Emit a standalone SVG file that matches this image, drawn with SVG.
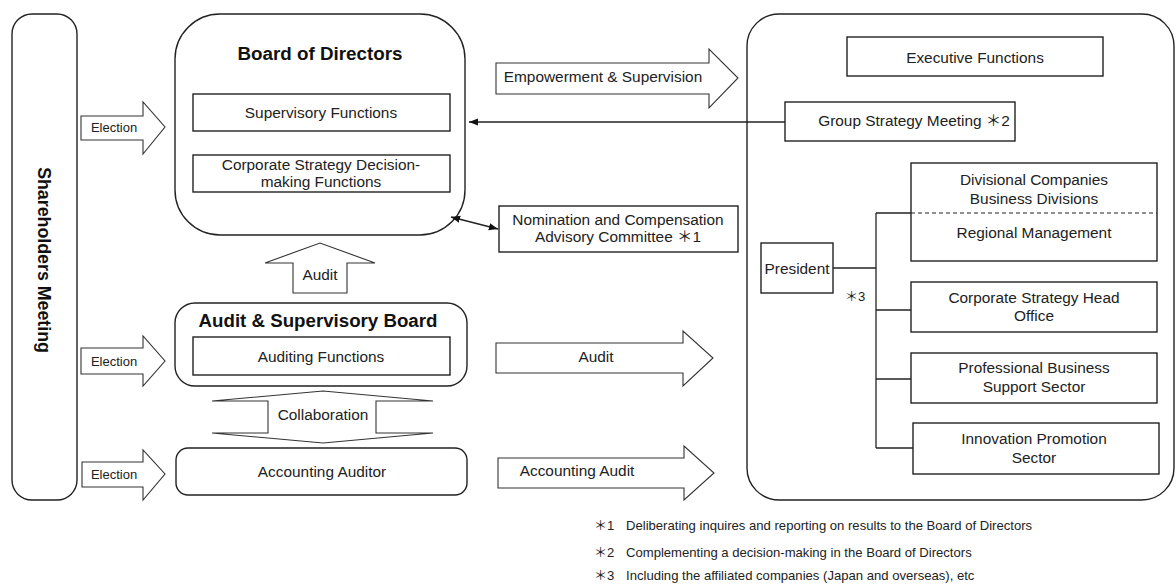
<svg xmlns="http://www.w3.org/2000/svg" width="1176" height="587" viewBox="0 0 1176 587">
<defs>
<style>
.box{fill:#fff;stroke:#222;stroke-width:1.4}
.arr{fill:#fff;stroke:#333;stroke-width:1.1}
.t{font-family:"Liberation Sans",Arial,"Noto Sans CJK JP",sans-serif;font-size:15.4px;fill:#222;text-anchor:middle}
.e{font-size:13px}
.b{font-family:"Liberation Sans",Arial,sans-serif;font-weight:bold;fill:#111;text-anchor:middle}
.fn{font-family:"Liberation Sans",Arial,"Noto Sans CJK JP",sans-serif;font-size:13.1px;fill:#222}
.ln{fill:none;stroke:#222;stroke-width:1.3}
</style>
<marker id="ah" viewBox="0 0 10 10" refX="10" refY="5" markerWidth="7" markerHeight="7" orient="auto-start-reverse"><path d="M0,1 L10,5 L0,9 z" fill="#111"/></marker>
</defs>
<rect width="1176" height="587" fill="#fff"/>

<g id="shareholders">
<rect class="box" x="12" y="14" width="65" height="486" rx="20"/>
<text class="b" font-size="17.8" transform="translate(38,260) rotate(90)">Shareholders Meeting</text>
</g>

<g id="board">
<rect class="box" x="175" y="14" width="290" height="221" rx="45"/>
<text class="b" font-size="18.8" x="320" y="60">Board of Directors</text>
<rect class="box" x="193" y="94" width="257" height="37"/>
<text class="t" x="321" y="117.5">Supervisory Functions</text>
<rect class="box" x="193" y="155" width="257" height="37"/>
<text class="t" x="321" y="170">Corporate Strategy Decision-</text>
<text class="t" x="321" y="186.5">making Functions</text>
</g>

<g id="audit-board">
<rect class="box" x="175" y="303" width="292" height="83" rx="20"/>
<text class="b" font-size="18.7" x="318" y="327">Audit &amp; Supervisory Board</text>
<rect class="box" x="193" y="337" width="257" height="38"/>
<text class="t" x="321" y="362">Auditing Functions</text>
</g>

<g id="accounting-auditor">
<rect class="box" x="176" y="448" width="291" height="47" rx="12"/>
<text class="t" x="322" y="477">Accounting Auditor</text>
</g>

<g id="nomination">
<rect class="box" x="499" y="206" width="239" height="46"/>
<text class="t" x="618" y="224.5">Nomination and Compensation</text>
<text class="t" x="618" y="241.5">Advisory Committee ＊1</text>
</g>

<g id="executive">
<rect class="box" x="747" y="14" width="427" height="486" rx="32"/>
<rect class="box" x="847" y="37" width="256" height="39"/>
<text class="t" x="975" y="63">Executive Functions</text>
</g>

<g id="group-strategy">
<rect class="box" x="785" y="102" width="230" height="39"/>
<text class="t" x="914" y="126">Group Strategy Meeting ＊2</text>
</g>

<g id="president">
<rect class="box" x="761" y="243" width="72" height="50"/>
<text class="t" x="797" y="274">President</text>
</g>

<g id="divisional">
<rect class="box" x="911" y="163" width="246" height="98"/>
<line x1="911" y1="213" x2="1157" y2="213" stroke="#222" stroke-width="1.1" stroke-dasharray="4,3"/>
<text class="t" x="1034" y="185">Divisional Companies</text>
<text class="t" x="1034" y="204">Business Divisions</text>
<text class="t" x="1034" y="238">Regional Management</text>
</g>

<g id="corporate-strategy">
<rect class="box" x="911" y="282" width="246" height="50"/>
<text class="t" x="1034" y="303">Corporate Strategy Head</text>
<text class="t" x="1034" y="321">Office</text>
</g>

<g id="professional">
<rect class="box" x="911" y="353" width="246" height="50"/>
<text class="t" x="1034" y="373">Professional Business</text>
<text class="t" x="1034" y="392">Support Sector</text>
</g>

<g id="innovation">
<rect class="box" x="913" y="423" width="246" height="51"/>
<text class="t" x="1034" y="444">Innovation Promotion</text>
<text class="t" x="1034" y="463">Sector</text>
</g>

<g id="connectors">
<path class="arr" d="M81,116 H143 V102 L165,127 L143,154 V140 H81 Z"/>
<text class="t e" x="114" y="132">Election</text>
<path class="arr" d="M81,348 H143 V336 L165,361 L143,386 V374 H81 Z"/>
<text class="t e" x="114" y="366">Election</text>
<path class="arr" d="M82,462 H143 V450 L165,474 L143,500 V487 H82 Z"/>
<text class="t e" x="114" y="479">Election</text>
<path class="arr" d="M293,293 V263 H265 L320,243 L375,263 H347 V293 Z"/>
<text class="t" x="320" y="280">Audit</text>
<path class="arr" d="M268,401 H212 L323,391 L433,401 H376 V433 H433 L323,443 L212,433 H268 Z"/>
<text class="t" x="323" y="420">Collaboration</text>
<path class="arr" d="M496,63 H709 V49 L738,78 L709,108 V94 H496 Z"/>
<text class="t" x="603" y="82">Empowerment &amp; Supervision</text>
<path class="arr" d="M496,343 H683 V331 L713,358 L683,386 V373 H496 Z"/>
<text class="t" x="596" y="362">Audit</text>
<path class="arr" d="M498,458 H684 V446 L714,473 L684,500 V488 H498 Z"/>
<text class="t" x="577" y="476">Accounting Audit</text>
<line class="ln" x1="785" y1="122" x2="469" y2="122" marker-end="url(#ah)"/>
<line class="ln" x1="451" y1="217" x2="498" y2="229" marker-start="url(#ah)" marker-end="url(#ah)"/>
<line class="ln" x1="833" y1="268" x2="876" y2="268"/>
<line class="ln" x1="876" y1="213" x2="876" y2="448"/>
<line class="ln" x1="876" y1="213" x2="911" y2="213"/>
<line class="ln" x1="876" y1="310" x2="911" y2="310"/>
<line class="ln" x1="876" y1="379" x2="911" y2="379"/>
<line class="ln" x1="876" y1="448" x2="913" y2="448"/>
<text class="fn" x="845" y="301">＊3</text>
</g>

<g id="footnotes">
<text class="fn" x="594" y="530">＊1</text>
<text class="fn" x="626" y="530">Deliberating inquires and reporting on results to the Board of Directors</text>
<text class="fn" x="594" y="557">＊2</text>
<text class="fn" x="626" y="557">Complementing a decision-making in the Board of Directors</text>
<text class="fn" x="594" y="580">＊3</text>
<text class="fn" x="626" y="580">Including the affiliated companies (Japan and overseas), etc</text>
</g>
</svg>
